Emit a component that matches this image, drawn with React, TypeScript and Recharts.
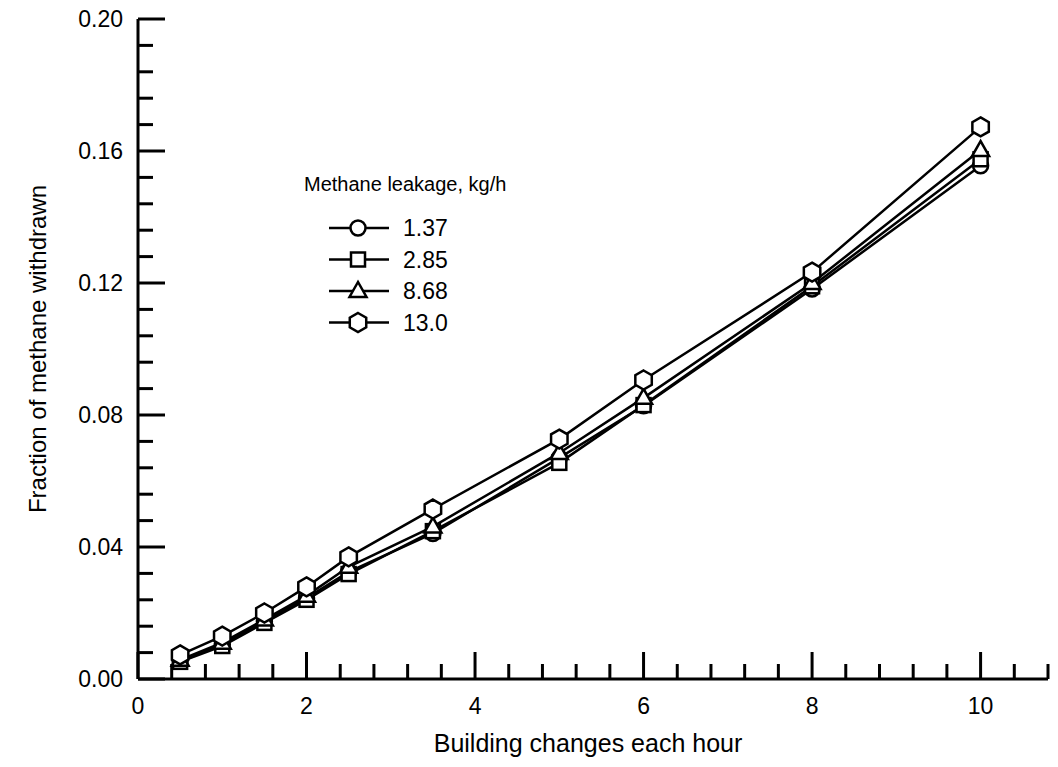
import React from "react";
import { Label, Line, LineChart, XAxis, YAxis } from "recharts";

// building air changes per hour
const hours = [0.5, 1, 1.5, 2, 2.5, 3.5, 5, 6, 8, 10];
// fraction of methane withdrawn, per leakage rate (kg/h)
const leak137 = [0.0055, 0.0105, 0.0175, 0.0245, 0.0325, 0.0441, 0.067, 0.0828, 0.1182, 0.1555];
const leak285 = [0.0052, 0.01, 0.017, 0.024, 0.0318, 0.0448, 0.0655, 0.083, 0.119, 0.1575];
const leak868 = [0.0058, 0.011, 0.018, 0.0252, 0.034, 0.0462, 0.0685, 0.0852, 0.12, 0.1603];
const leak130 = [0.0073, 0.013, 0.02, 0.0279, 0.037, 0.0515, 0.0727, 0.0906, 0.1233, 0.1673];

const seriesNames = ["1.37", "2.85", "8.68", "13.0"];
const seriesKeys = ["l137", "l285", "l868", "l130"];
const markers = ["circle", "square", "triangle", "hexagon"];

const xMajor = [0, 2, 4, 6, 8, 10];
const yMajor = [0, 0.04, 0.08, 0.12, 0.16, 0.2];
const xMinorStep = 0.4;
const yMinorStep = 0.008;

const data = hours.map((h, i) => ({
  h,
  l137: leak137[i],
  l285: leak285[i],
  l868: leak868[i],
  l130: leak130[i],
}));

const xTicks = Array.from({ length: 28 }, (_, i) => Math.round(i * xMinorStep * 10) / 10);
const yTicks = Array.from({ length: 26 }, (_, i) => Math.round(i * yMinorStep * 1000) / 1000);

const FONT = "Arial, 'Liberation Sans', sans-serif";
const INK = "#000";
const MAJOR = 27;
const MINOR = 15;
const AXIS_W = 3;

const isMajor = (list: number[], v: number) => list.some((m) => Math.abs(m - v) < 1e-6);

function marker(kind: string, cx: number, cy: number, key?: string) {
  const common = { fill: "#fff", stroke: INK, strokeWidth: 2.5 };
  if (kind === "circle") return <circle key={key} cx={cx} cy={cy} r={7.5} {...common} />;
  if (kind === "square")
    return <rect key={key} x={cx - 7} y={cy - 7} width={14} height={14} {...common} />;
  if (kind === "triangle")
    return (
      <polygon
        key={key}
        points={`${cx},${cy - 9} ${cx - 8.5},${cy + 6} ${cx + 8.5},${cy + 6}`}
        {...common}
      />
    );
  const pts = [0, 1, 2, 3, 4, 5]
    .map((k) => {
      const a = ((-90 + k * 60) * Math.PI) / 180;
      return `${cx + 9.5 * Math.cos(a)},${cy + 9.5 * Math.sin(a)}`;
    })
    .join(" ");
  return <polygon key={key} points={pts} {...common} />;
}

function BottomTick(props: any) {
  const { x, y, payload } = props;
  const major = isMajor(xMajor, payload.value);
  return (
    <g>
      <line x1={x} x2={x} y1={y} y2={y - (major ? MAJOR : MINOR)} stroke={INK} strokeWidth={AXIS_W} />
      {major && (
        <text x={x} y={y + 35} textAnchor="middle" fontSize={23} fontFamily={FONT} fill={INK}>
          {payload.value}
        </text>
      )}
    </g>
  );
}

function TopTick(props: any) {
  const { x, y, payload } = props;
  const major = isMajor(xMajor, payload.value);
  return <line x1={x} x2={x} y1={y} y2={y + (major ? MAJOR : MINOR)} stroke={INK} strokeWidth={AXIS_W} />;
}

function LeftTick(props: any) {
  const { x, y, payload } = props;
  const major = isMajor(yMajor, payload.value);
  return (
    <g>
      <line x1={x} x2={x + (major ? MAJOR : MINOR)} y1={y} y2={y} stroke={INK} strokeWidth={AXIS_W} />
      {major && (
        <text x={x - 15} y={y + 8} textAnchor="end" fontSize={23} fontFamily={FONT} fill={INK}>
          {payload.value.toFixed(2)}
        </text>
      )}
    </g>
  );
}

function RightTick(props: any) {
  const { x, y, payload } = props;
  const major = isMajor(yMajor, payload.value);
  return <line x1={x} x2={x - (major ? MAJOR : MINOR)} y1={y} y2={y} stroke={INK} strokeWidth={AXIS_W} />;
}

function LegendOverlay() {
  const top = 228;
  const gap = 31.5;
  return (
    <svg
      width={1058}
      height={767}
      style={{ position: "absolute", left: 0, top: 0, pointerEvents: "none" }}
    >
      <text x={304} y={191} fontSize={20} fontFamily={FONT} fill={INK}>
        Methane leakage, kg/h
      </text>
      {seriesNames.map((name, i) => {
        const cy = top + i * gap;
        return (
          <g key={name}>
            <line x1={329} x2={389} y1={cy} y2={cy} stroke={INK} strokeWidth={2.5} />
            {marker(markers[i], 358, cy)}
            <text x={403} y={cy + 8} fontSize={23} fontFamily={FONT} fill={INK}>
              {name}
            </text>
          </g>
        );
      })}
    </svg>
  );
}

export default function App() {
  return (
    <div style={{ position: "absolute", left: 0, top: 0, width: 1058, height: 767, background: "#fff" }}>
      <LineChart
        width={1058}
        height={767}
        data={data}
        margin={{ top: 19, right: 10, bottom: 28, left: 38 }}
      >
        <XAxis
          xAxisId="b"
          dataKey="h"
          type="number"
          domain={[0, 10.8]}
          ticks={xTicks}
          interval={0}
          allowDataOverflow
          height={60}
          tickSize={0}
          tickMargin={0}
          tickLine={false}
          tick={<BottomTick />}
          axisLine={{ stroke: INK, strokeWidth: AXIS_W }}
        >
          <Label
            content={(p: any) => {
              const vb = p.viewBox;
              return (
                <text
                  x={vb.x + vb.width / 2 - 5}
                  y={752}
                  textAnchor="middle"
                  fontSize={25}
                  fontFamily={FONT}
                  fill={INK}
                >
                  Building changes each hour
                </text>
              );
            }}
          />
        </XAxis>
        <XAxis
          xAxisId="t"
          orientation="top"
          type="number"
          domain={[0, 10.8]}
          ticks={xTicks}
          interval={0}
          allowDataOverflow
          height={0}
          tickSize={0}
          tickMargin={0}
          tickLine={false}
          tick={<TopTick />}
          axisLine={{ stroke: INK, strokeWidth: AXIS_W }}
        />
        <YAxis
          yAxisId="l"
          type="number"
          domain={[0, 0.2]}
          ticks={yTicks}
          interval={0}
          allowDataOverflow
          width={100}
          tickSize={0}
          tickMargin={0}
          tickLine={false}
          tick={<LeftTick />}
          axisLine={{ stroke: INK, strokeWidth: AXIS_W }}
        >
          <Label
            content={(p: any) => {
              const vb = p.viewBox;
              const cy = vb.y + vb.height / 2;
              return (
                <text
                  transform={`translate(46, ${cy}) rotate(-90)`}
                  textAnchor="middle"
                  fontSize={24}
                  fontFamily={FONT}
                  fill={INK}
                >
                  Fraction of methane withdrawn
                </text>
              );
            }}
          />
        </YAxis>
        <YAxis
          yAxisId="r"
          orientation="right"
          type="number"
          domain={[0, 0.2]}
          ticks={yTicks}
          interval={0}
          allowDataOverflow
          width={0}
          tickSize={0}
          tickMargin={0}
          tickLine={false}
          tick={<RightTick />}
          axisLine={{ stroke: INK, strokeWidth: AXIS_W }}
        />
        {seriesKeys.map((k, i) => (
          <Line
            key={k}
            xAxisId="b"
            yAxisId="l"
            dataKey={k}
            name={seriesNames[i]}
            stroke={INK}
            strokeWidth={2.5}
            isAnimationActive={false}
            dot={(p: any) => marker(markers[i], p.cx, p.cy, `${k}-${p.index}`)}
            activeDot={false}
          />
        ))}
      </LineChart>
      <LegendOverlay />
    </div>
  );
}
